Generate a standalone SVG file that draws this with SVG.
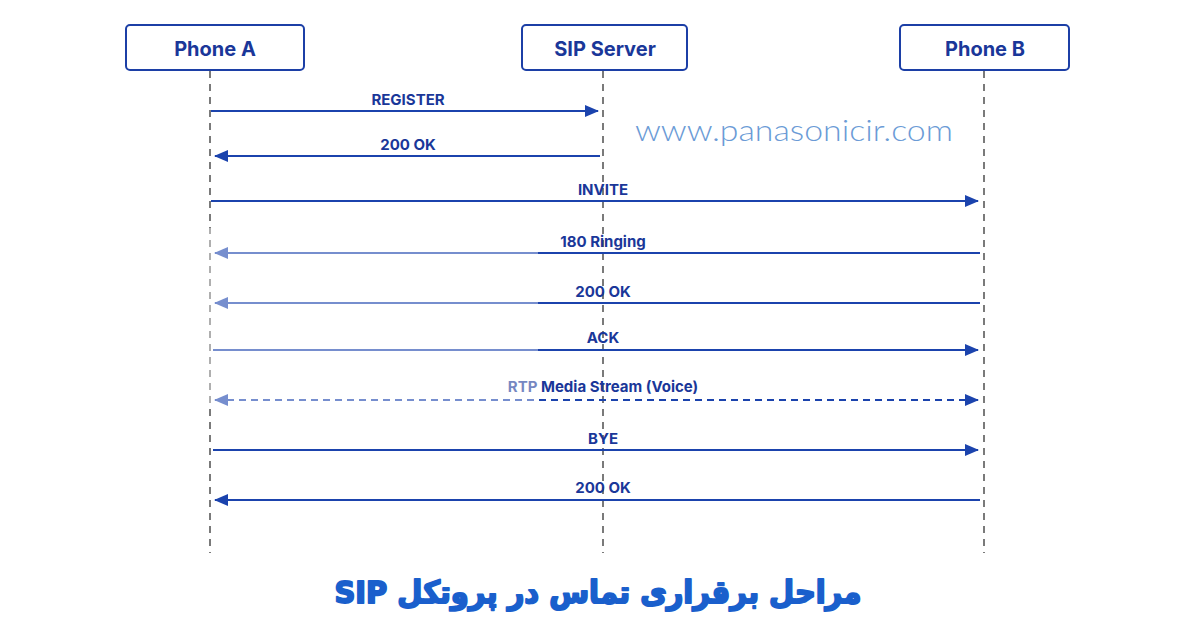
<svg xmlns="http://www.w3.org/2000/svg" width="1200" height="630" viewBox="0 0 1200 630">
<defs>
<style>
.box{fill:#fff;stroke:#1c3fa6;stroke-width:2}
.hdr{font-family:Inter,"Noto Sans","Liberation Sans",sans-serif;font-weight:700;font-size:20px;fill:#1a3799;text-anchor:middle}
.life{stroke:#7a7a7a;stroke-width:2;stroke-dasharray:7 6}
.msg{stroke:#1b43ad;stroke-width:2;fill:none}
.dash{stroke-dasharray:7 5}
.lbl{font-family:Inter,"Noto Sans","Liberation Sans",sans-serif;font-weight:700;font-size:15px;fill:#1a3799;text-anchor:middle}
</style>
<marker id="ah" viewBox="0 0 14 12" refX="13" refY="6" markerWidth="14" markerHeight="12" markerUnits="userSpaceOnUse" orient="auto-start-reverse">
<path d="M0,0 L14,6 L0,12 Z" fill="#1b43ad"/>
</marker>
</defs>
<rect width="1200" height="630" fill="#fff"/>
<g id="lifelines">
<line class="life" x1="210" y1="71" x2="210" y2="553"/>
<line class="life" x1="603" y1="71" x2="603" y2="553"/>
<line class="life" x1="984" y1="71" x2="984" y2="553"/>
</g>
<g id="phoneA"><rect class="box" x="126" y="25" width="178" height="45" rx="4"/><text class="hdr" x="215" y="56">Phone A</text></g>
<g id="sipServer"><rect class="box" x="522" y="25" width="165" height="45" rx="4"/><text class="hdr" x="605" y="56">SIP Server</text></g>
<g id="phoneB"><rect class="box" x="900" y="25" width="169" height="45" rx="4"/><text class="hdr" x="985" y="56">Phone B</text></g>
<g id="connectors">
<line class="msg" x1="211" y1="111" x2="598" y2="111" marker-end="url(#ah)"/>
<text class="lbl" x="408" y="105">REGISTER</text>
<line class="msg" x1="600" y1="156" x2="215" y2="156" marker-end="url(#ah)"/>
<text class="lbl" x="408" y="150">200 OK</text>
<line class="msg" x1="211" y1="201" x2="978" y2="201" marker-end="url(#ah)"/>
<text class="lbl" x="603" y="195">INVITE</text>
<line class="msg" x1="980" y1="253" x2="215" y2="253" marker-end="url(#ah)"/>
<text class="lbl" x="603" y="247">180 Ringing</text>
<line class="msg" x1="980" y1="303" x2="215" y2="303" marker-end="url(#ah)"/>
<text class="lbl" x="603" y="297">200 OK</text>
<line class="msg" x1="213" y1="350" x2="978" y2="350" marker-end="url(#ah)"/>
<text class="lbl" x="603" y="343">ACK</text>
<line class="msg dash" x1="215" y1="400" x2="978" y2="400" marker-start="url(#ah)" marker-end="url(#ah)"/>
<text class="lbl" x="603" y="392">RTP Media Stream (Voice)</text>
<line class="msg" x1="213" y1="450" x2="978" y2="450" marker-end="url(#ah)"/>
<text class="lbl" x="603" y="444">BYE</text>
<line class="msg" x1="980" y1="500" x2="215" y2="500" marker-end="url(#ah)"/>
<text class="lbl" x="603" y="493">200 OK</text>
</g>
<rect x="196" y="228" width="342" height="180" fill="#fff" opacity="0.4"/>
<text x="635" y="141" font-family="Lato,'Open Sans','Liberation Sans',sans-serif" font-weight="300" font-size="29" fill="#6b9bd6" textLength="318" lengthAdjust="spacingAndGlyphs">www.panasonicir.com</text>
<text x="598" y="603" font-family="'DejaVu Sans','Noto Sans',sans-serif" font-weight="700" font-size="31" fill="#1a5fcc" text-anchor="middle" stroke="#1a5fcc" stroke-width="2" stroke-linejoin="round" direction="rtl" textLength="527" lengthAdjust="spacingAndGlyphs">مراحل برقراری تماس در پروتکل SIP</text>
</svg>
